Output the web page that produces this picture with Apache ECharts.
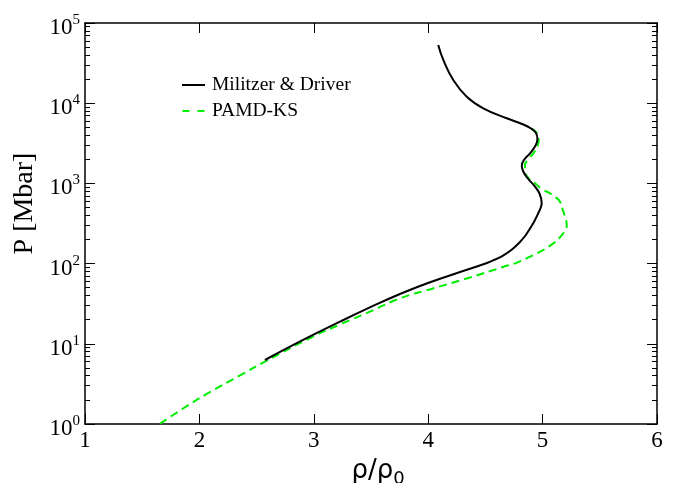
<!DOCTYPE html>
<html>
<head>
    <meta charset="utf-8">
    <title></title>
    <script src="https://cdn.jsdelivr.net/npm/echarts@6/dist/echarts.min.js"></script>
</head>
<body style="margin:0;background:#fff;">
    <div id="chart_box" style="width:678px;height:483px;"></div>
    <script>
        // Militzer & Driver: rho/rho0 and P (Mbar)
        var mdRho = [2.573, 2.792, 2.993, 3.229, 3.5, 3.753, 3.998, 4.278, 4.514, 4.584, 4.654, 4.732, 4.802, 4.85, 4.89, 4.929, 4.962, 4.982, 4.992, 4.973, 4.925, 4.868, 4.829, 4.818, 4.837, 4.89, 4.938, 4.955, 4.942, 4.899, 4.82, 4.686, 4.482, 4.337, 4.219, 4.132, 4.088];
        var mdP = [6.28, 9.2, 12.9, 18.9, 28.8, 41.8, 57.3, 78.5, 101.6, 112.5, 126, 150, 186, 224, 274, 340, 424, 493, 565, 748, 942, 1167, 1428, 1671, 1959, 2371, 2970, 3580, 4250, 4840, 5500, 6486, 8630, 12050, 19450, 34590, 53210];
        // PAMD-KS
        var ksRho = [1.656, 1.857, 2.064, 2.355, 2.573, 2.993, 3.229, 3.5, 3.753, 4.042, 4.365, 4.654, 4.776, 4.89, 4.999, 5.094, 5.143, 5.181, 5.205, 5.211, 5.205, 5.181, 5.152, 5.108, 5.065, 5.006, 4.934, 4.872, 4.846, 4.846, 4.877, 4.919, 4.955, 4.966, 4.955, 4.916, 4.881];
        var ksP = [1.01, 1.56, 2.37, 4.03, 6.0, 12.3, 17.4, 25.5, 36.9, 49, 67.1, 90.8, 103, 122, 146, 179, 206, 239, 270, 303, 350, 444, 592, 682, 753, 828, 1002, 1185, 1428, 1694, 2014, 2371, 2926, 3475, 4130, 4700, 4980];

        function pairs(a, b) {
            var out = [];
            for (var i = 0; i < a.length; i++) out.push([a[i], b[i]]);
            return out;
        }

        var myChart = echarts.init(document.getElementById('chart_box'));
        var font = 'Liberation Serif';
        var axisLineStyle = { color: '#000', width: 1.5 };
        var tick = { inside: true, length: 10, lineStyle: { color: '#000' } };
        var minor = { show: true, splitNumber: 9, length: 5, lineStyle: { color: '#000' } };

        var option = {
            animation: false,
            grid: { left: 85, right: 21, top: 23, bottom: 59, containLabel: false, outerBoundsMode: 'none' },
            legend: {
                orient: 'vertical',
                left: 177,
                top: 70,
                itemWidth: 23,
                itemHeight: 2,
                itemGap: 6,
                textStyle: { fontFamily: font, fontSize: 19.5, color: '#000', padding: [0, 0, 0, 2] },
                data: [
                    { name: 'Militzer & Driver', icon: 'path://M0,0 L23,0 L23,2 L0,2 Z' },
                    { name: 'PAMD-KS', icon: 'path://M0,0 L7,0 L7,2 L0,2 Z M15,0 L22,0 L22,2 L15,2 Z' }
                ]
            },
            xAxis: [{
                type: 'value',
                min: 1, max: 6, interval: 1,
                name: '{a|ρ/ρ}{b|0}',
                nameLocation: 'middle',
                nameGap: 30,
                nameTextStyle: {
                    padding: [0, 0, 0, 14],
                    rich: {
                        a: { fontFamily: 'DejaVu Sans', fontSize: 26, color: '#000' },
                        b: { fontFamily: 'DejaVu Sans', fontSize: 18, color: '#000', padding: [16, 0, 0, 0] }
                    }
                },
                axisLine: { lineStyle: axisLineStyle },
                axisTick: tick,
                axisLabel: { fontFamily: font, fontSize: 23, color: '#000', margin: 5 },
                splitLine: { show: false }
            }, {
                type: 'value',
                position: 'top',
                min: 1, max: 6, interval: 1,
                axisLine: { lineStyle: axisLineStyle },
                axisTick: tick,
                axisLabel: { show: false },
                splitLine: { show: false }
            }],
            yAxis: [{
                type: 'log',
                logBase: 10,
                min: 1, max: 100000,
                name: 'P [Mbar]',
                nameLocation: 'middle',
                nameGap: 39,
                nameTextStyle: { fontFamily: font, fontSize: 28, color: '#000', padding: [0, 0, 0, 40] },
                axisLine: { lineStyle: axisLineStyle },
                axisTick: tick,
                minorTick: minor,
                axisLabel: {
                    margin: 5,
                    formatter: function (v) {
                        return '{b|10}{s|' + Math.round(Math.log10(v)) + '}';
                    },
                    rich: {
                        b: { fontFamily: font, fontSize: 23, color: '#000', padding: [10, 0, 0, 0] },
                        s: { fontFamily: font, fontSize: 15, color: '#000', padding: [0, 0, 6, 0] }
                    }
                },
                splitLine: { show: false }
            }, {
                type: 'log',
                logBase: 10,
                position: 'right',
                min: 1, max: 100000,
                axisLine: { lineStyle: axisLineStyle },
                axisTick: tick,
                minorTick: minor,
                axisLabel: { show: false },
                splitLine: { show: false }
            }],
            series: [{
                name: 'Militzer & Driver',
                type: 'line',
                smooth: 0.45,
                symbol: 'none',
                data: pairs(mdRho, mdP),
                lineStyle: { color: '#000', width: 2 },
                itemStyle: { color: '#000' },
                z: 3
            }, {
                name: 'PAMD-KS',
                type: 'line',
                smooth: 0.45,
                symbol: 'none',
                data: pairs(ksRho, ksP),
                lineStyle: { color: '#00ee00', width: 2, type: [8, 5] },
                itemStyle: { color: '#00ee00' },
                z: 2
            }]
        };
        myChart.setOption(option);
    </script>
</body>
</html>
